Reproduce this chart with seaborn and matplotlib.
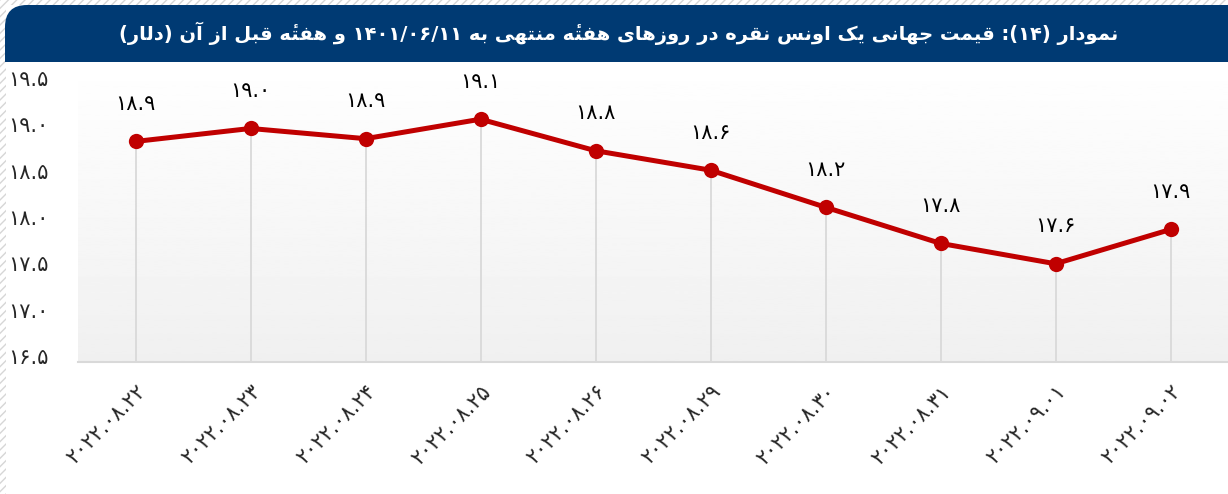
import numpy as np
import matplotlib
matplotlib.use("Agg")
import matplotlib.pyplot as plt
from matplotlib.patches import Rectangle, FancyBboxPatch
from matplotlib.transforms import ScaledTranslation
import seaborn as sns

# data
dates = ["2022.08.22", "2022.08.23", "2022.08.24", "2022.08.25", "2022.08.26",
         "2022.08.29", "2022.08.30", "2022.08.31", "2022.09.01", "2022.09.02"]
prices = [18.88, 19.02, 18.91, 19.12, 18.78, 18.57, 18.17, 17.78, 17.56, 17.93]
yticks = [16.5, 17.0, 17.5, 18.0, 18.5, 19.0, 19.5]
title = "نمودار (۱۴): قیمت جهانی یک اونس نقره در روزهای هفتهٔ منتهی به ۱۴۰۱/۰۶/۱۱ و هفتهٔ قبل از آن (دلار)"

# persian digits
FA = str.maketrans("0123456789", "۰۱۲۳۴۵۶۷۸۹")
def fa(s):
    return str(s).translate(FA)

# simple arabic shaping (isol, fina, init, medi)
forms = {
    'ا': ('\uFE8D', '\uFE8E', None, None),
    'آ': ('\uFE81', '\uFE82', None, None),
    'د': ('\uFEA9', '\uFEAA', None, None),
    'ر': ('\uFEAD', '\uFEAE', None, None),
    'ز': ('\uFEAF', '\uFEB0', None, None),
    'و': ('\uFEED', '\uFEEE', None, None),
    'ب': ('\uFE8F', '\uFE90', '\uFE91', '\uFE92'),
    'ت': ('\uFE95', '\uFE96', '\uFE97', '\uFE98'),
    'ج': ('\uFE9D', '\uFE9E', '\uFE9F', '\uFEA0'),
    'س': ('\uFEB1', '\uFEB2', '\uFEB3', '\uFEB4'),
    'ف': ('\uFED1', '\uFED2', '\uFED3', '\uFED4'),
    'ق': ('\uFED5', '\uFED6', '\uFED7', '\uFED8'),
    'ک': ('\uFB8E', '\uFB8F', '\uFB90', '\uFB91'),
    'ل': ('\uFEDD', '\uFEDE', '\uFEDF', '\uFEE0'),
    'م': ('\uFEE1', '\uFEE2', '\uFEE3', '\uFEE4'),
    'ن': ('\uFEE5', '\uFEE6', '\uFEE7', '\uFEE8'),
    'ه': ('\uFEE9', '\uFEEA', '\uFEEB', '\uFEEC'),
    'ی': ('\uFBFC', '\uFBFD', '\uFBFE', '\uFBFF'),
}
MARK = '\u0654'

def shape(txt):
    letters = list(txt)
    out = []
    for i, c in enumerate(letters):
        if c not in forms:
            out.append(c)
            continue
        j = i - 1
        while j >= 0 and letters[j] == MARK:
            j -= 1
        k = i + 1
        while k < len(letters) and letters[k] == MARK:
            k += 1
        prev = letters[j] if j >= 0 else ''
        nxt = letters[k] if k < len(letters) else ''
        jp = prev in forms and forms[prev][2] is not None
        jn = nxt in forms and forms[c][2] is not None
        iso, fin, ini, med = forms[c]
        if jp and jn:
            out.append(med)
        elif jp:
            out.append(fin)
        elif jn:
            out.append(ini)
        else:
            out.append(iso)
    return ''.join(out)

def rtl(txt):
    s = shape(txt)
    digits = set("۰۱۲۳۴۵۶۷۸۹/.")
    runs = []
    for c in s:
        isd = c in digits
        if runs and runs[-1][0] == isd:
            runs[-1][1] += c
        else:
            runs.append([isd, c])
    mirror = str.maketrans("()", ")(")
    res = ""
    for isd, r in reversed(runs):
        if isd:
            res += r
            continue
        rr = list(r[::-1].translate(mirror))
        # keep combining mark after its base glyph
        i = 0
        while i < len(rr) - 1:
            if rr[i] == MARK:
                rr[i], rr[i+1] = rr[i+1], rr[i]
                i += 2
            else:
                i += 1
        res += ''.join(rr)
    return res

sns.set_style("white")
plt.rcParams['font.family'] = ['DejaVu Sans']
plt.rcParams['hatch.linewidth'] = 1.0

W, H = 1228, 494
fig = plt.figure(figsize=(W/100, H/100), dpi=100)

# hatched border + white card
fig.patches.append(Rectangle((0, 0), 1, 1, transform=fig.transFigure, facecolor='white',
                             edgecolor='#d6d6d6', hatch='////', lw=0, zorder=-10))
fig.patches.append(Rectangle((6/W, 0), 1, 1 - 5/H, transform=fig.transFigure,
                             facecolor='white', lw=0, zorder=-9))
# title banner
fig.patches.append(FancyBboxPatch((0.05, (H-62)/100), 13, 0.57, transform=fig.dpi_scale_trans,
                                  boxstyle="round,pad=0,rounding_size=0.22",
                                  facecolor='#003a73', lw=0, zorder=-5))
fig.patches.append(Rectangle((0.05, (H-62)/100), 13, 0.3, transform=fig.dpi_scale_trans,
                             facecolor='#003a73', lw=0, zorder=-5))
fig.text(619/W, 1 - 33/H, rtl(title), color='white', fontsize=14, fontweight='bold',
         ha='center', va='center')

# axes
ax = fig.add_axes([78/W, 1 - 362/H, 1 - 78/W, (362-62)/H])
x = np.arange(len(prices))
ymin = 16.5
ymax = 19.5 + 22/92.7
ax.set_xlim(-0.5, len(prices) - 0.5)
ax.set_ylim(ymin, ymax)

# gradient background
grad = np.linspace(1.0, 0.94, 256).reshape(-1, 1)
ax.imshow(grad, cmap='gray', vmin=0, vmax=1, aspect='auto',
          extent=(-0.5, len(prices) - 0.5, ymin, ymax), zorder=0)

ax.vlines(x, ymin, prices, color='#d9d9d9', lw=1.3, zorder=1)
sns.lineplot(x=x, y=prices, ax=ax, color='#c00000', lw=3.6, marker='o', markersize=11,
             markeredgewidth=0, zorder=3)

for xi, v in zip(x, prices):
    ax.annotate(fa(f"{v:.1f}"), (xi, v), xytext=(0, 27), textcoords='offset points',
                ha='center', va='center', fontsize=15, color='black')

ax.set_xticks(x)
ax.set_xticklabels([fa(d) for d in dates], rotation=45, ha='right',
                   rotation_mode='anchor', fontsize=15)
ax.set_xticks(np.arange(-0.5, len(prices)), minor=True)
ax.tick_params(axis='x', which='major', length=0, pad=14)
ax.tick_params(axis='x', which='minor', length=6, color='#d9d9d9', width=1.5)
ax.set_yticks(yticks)
ax.set_yticklabels([fa(f"{t:.1f}") for t in yticks], fontsize=15)
ax.tick_params(axis='y', length=0, pad=21)
off = ScaledTranslation(0, 6/100, fig.dpi_scale_trans)
for lab in ax.get_yticklabels():
    lab.set_transform(lab.get_transform() + off)

for s in ['top', 'right', 'left']:
    ax.spines[s].set_visible(False)
ax.spines['bottom'].set_color('#d9d9d9')
ax.spines['bottom'].set_linewidth(1.5)
ax.set_xlabel('')
ax.set_ylabel('')

fig.savefig("out.png", dpi=100)
